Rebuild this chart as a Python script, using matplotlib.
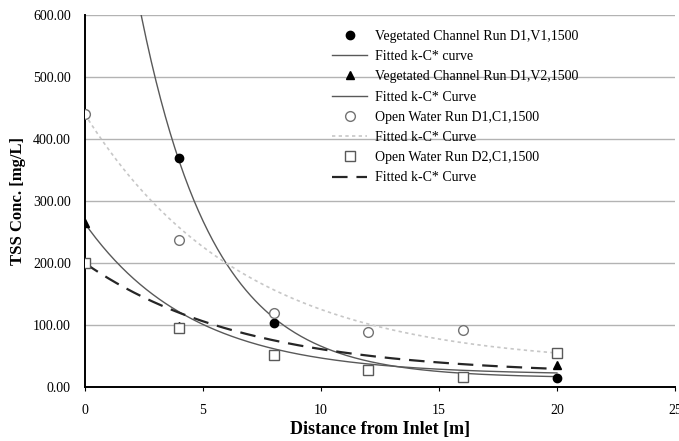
import numpy as np
import matplotlib
matplotlib.use("Agg")
import matplotlib.pyplot as plt

plt.rcParams['font.family'] = ['Liberation Serif', 'DejaVu Serif']

# measured TSS concentrations [mg/L] at distance from inlet [m]
dist_v1 = [4, 8, 12, 16, 20]
tss_v1 = [369, 103, 27, 17, 15]

dist_v2 = [0, 4, 8, 12, 16, 20]
tss_v2 = [264, 98, 52, 27, 16, 35]

dist_c1 = [0, 4, 8, 12, 16]
tss_c1 = [441, 238, 120, 89, 92]

dist_c2 = [0, 4, 8, 12, 16, 20]
tss_c2 = [200, 95, 52, 28, 17, 55]

# fitted k-C* parameters: C = C* + (C0 - C*) exp(-k x)
c0_fit = [1270, 264, 440, 200]
cstar_fit = [15, 20, 35, 20]
k_fit = [0.32, 0.22, 0.15, 0.147]

labels_data = ['Vegetated Channel Run D1,V1,1500',
               'Vegetated Channel Run D1,V2,1500',
               'Open Water Run D1,C1,1500',
               'Open Water Run D2,C1,1500']
labels_fit = ['Fitted k-C* curve', 'Fitted k-C* Curve',
              'Fitted k-C* Curve', 'Fitted k-C* Curve']


def kc_curve(x, c0, cs, k):
    return cs + (c0 - cs) * np.exp(-k * x)


fig = plt.figure(figsize=(6.79, 4.41), dpi=100)
ax = fig.add_axes([0.125, 0.122, 0.869, 0.844])

xs = np.linspace(0, 20, 300)
fit_styles = [dict(color='0.35', lw=1.0, ls='-'),
              dict(color='0.35', lw=1.0, ls='-'),
              dict(color='0.78', lw=1.2, ls=(0, (2, 2))),
              dict(color='0.15', lw=1.6, ls=(0, (7, 4)))]
marker_styles = [dict(marker='o', mfc='black', mec='black', ms=6),
                 dict(marker='^', mfc='black', mec='black', ms=6),
                 dict(marker='o', mfc='white', mec='0.45', ms=7),
                 dict(marker='s', mfc='white', mec='0.35', ms=7)]
data = [(dist_v1, tss_v1), (dist_v2, tss_v2), (dist_c1, tss_c1), (dist_c2, tss_c2)]

for i in range(4):
    dx, dy = data[i]
    ax.plot(dx, dy, ls='none', label=labels_data[i], zorder=4, **marker_styles[i])
    ax.plot(xs, kc_curve(xs, c0_fit[i], cstar_fit[i], k_fit[i]),
            label=labels_fit[i], zorder=3, **fit_styles[i])

ax.set_xlim(0, 25)
ax.set_ylim(0, 600)
ax.set_xticks([0, 5, 10, 15, 20, 25])
ax.set_yticks(np.arange(0, 601, 100))
ax.set_yticklabels([f"{v:.2f}" for v in np.arange(0, 601, 100)])
ax.yaxis.grid(True, color='0.7', lw=1.0)
ax.set_axisbelow(True)
for s in ['top', 'right']:
    ax.spines[s].set_visible(False)
ax.spines['left'].set_linewidth(1.4)
ax.spines['bottom'].set_linewidth(1.4)
ax.tick_params(axis='both', labelsize=10, length=3)
ax.tick_params(axis='x', pad=9)
ax.tick_params(axis='y', length=0, pad=10)

ax.set_xlabel('Distance from Inlet [m]', fontsize=13, fontweight='bold', labelpad=3)
ax.set_ylabel('TSS Conc. [mg/L]', fontsize=12, fontweight='bold', labelpad=5)

ax.legend(loc='upper left', bbox_to_anchor=(0.41, 0.975), frameon=False,
          fontsize=10, handlelength=2.5, handletextpad=0.6,
          labelspacing=0.52, borderaxespad=0)

fig.savefig('out.png', dpi=100)
